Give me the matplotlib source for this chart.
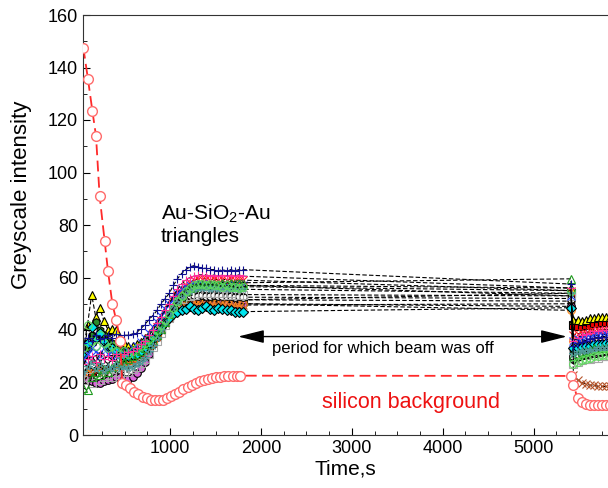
import matplotlib
matplotlib.use("Agg")
import matplotlib.pyplot as plt

plt.rcParams['font.family'] = ['Liberation Sans', 'DejaVu Sans']
plt.rcParams['mathtext.default'] = 'regular'

# time axis (s): beam on, then beam on again after the pause
t_on = [45, 90, 135, 180, 225, 270, 315, 360, 405, 450,
        495, 540, 585, 630, 675, 720, 765, 810, 855, 900,
        945, 990, 1035, 1080, 1125, 1170, 1215, 1260, 1305, 1350,
        1395, 1440, 1485, 1530, 1575, 1620, 1665, 1710, 1755, 1800]
t_after = [5412, 5440, 5485, 5530, 5575, 5620, 5665, 5710, 5755, 5800, 5845]

# silicon background
t_si = [44, 95, 143, 183, 223, 278, 315, 363, 404, 451,
        471, 516, 561, 606, 651, 696, 741, 786, 831, 876,
        921, 966, 1011, 1056, 1101, 1146, 1191, 1236, 1281, 1326,
        1371, 1416, 1461, 1506, 1551, 1596, 1641, 1686, 1731, 1766]
si_on = [147.5, 135.5, 123.5, 114, 91, 74, 62.5, 50, 44, 36,
         20, 19, 18, 16.5, 15.5, 14.5, 14, 13.5, 13.3, 13.3,
         13.5, 14, 14.8, 15.5, 16.5, 17.5, 18.3, 19, 19.8, 20.5,
         21, 21.5, 21.8, 22, 22.2, 22.4, 22.5, 22.5, 22.6, 22.6]
si_after = [22.5, 19, 14, 12.5, 12, 11.5, 11.5, 11.5, 11.5, 11.5, 11.5]

# Au-SiO2-Au triangles, one list per triangle
tri_navy = [35, 37, 36, 38, 36.5, 37, 38, 37, 38.5, 37, 38, 38, 38.5, 39, 40.5, 42, 44, 45.5, 47.5, 50,
            52, 54, 57, 59.5, 61.5, 63, 64, 64.5, 64, 63.5, 63.5, 63, 63, 62.5, 63, 62.5, 63, 62.5, 63, 63]
tri_navy_after = [57.5, 34, 35, 35.5, 36, 36.5, 37, 37, 37.5, 37.5, 37.5]
tri_pink = [27, 29, 30, 28, 31, 29, 30, 28.5, 31, 30, 31, 31.5, 32, 33, 34.5, 36, 38, 40, 42.5, 45,
            47.5, 50, 53, 55.5, 57.5, 59, 60, 60.5, 61, 61, 61, 60.5, 61, 60.5, 61, 60.5, 61, 60.5, 61, 60.5]
tri_pink_after = [56, 36, 37, 38, 38.5, 39, 39.5, 39.5, 40, 40, 40]
tri_redx = [24, 25, 27, 26, 25, 28, 27, 26, 29, 28, 29, 30, 31, 32, 33.5, 35, 37, 39, 41, 43.5,
            46, 48.5, 51, 53.5, 55.5, 57, 58, 59, 59.5, 59.5, 59.5, 59, 59.5, 59, 59.5, 59, 59.5, 59, 59, 59]
tri_redx_after = [55, 38, 38.5, 39, 39, 39.5, 39.5, 40, 40, 40, 40]
tri_lgreen = [33, 42, 36, 34, 38, 35, 33, 34, 32, 31, 32, 31, 32, 33, 34, 35, 36.5, 38, 40, 42,
              44, 46, 48.5, 51, 53, 55, 56, 57, 57.5, 57.5, 57, 57.5, 57, 57, 56.5, 57, 56.5, 56.5, 56, 56.5]
tri_lgreen_after = [55, 27, 28, 28.5, 29, 29.5, 30, 30, 30.5, 30.5, 31]
tri_gtri = [18, 17, 22, 24, 23, 25, 24, 26, 27, 28, 28, 29, 30, 31, 32, 33, 34.5, 36, 38, 40.5,
            43, 46, 49, 51.5, 53.5, 55, 56, 56.5, 57, 57, 57, 57.5, 57.5, 57.5, 58, 58, 58, 58, 58, 58]
tri_gtri_after = [59.5, 30, 31, 31.5, 32, 32.5, 33, 33, 33, 33, 33]
tri_teal = [24, 26, 28, 25, 27, 24.5, 26, 25, 27, 25, 26, 25.5, 26, 27, 28, 29.5, 31.5, 34, 37, 40,
            43, 46, 48.5, 50.5, 52.5, 54, 55, 55.5, 56, 56, 56, 55.5, 56, 55.5, 56, 55.5, 55.5, 55.5, 55.5, 55.5]
tri_teal_after = [54, 31, 31.5, 32, 32, 32.5, 32.5, 33, 33, 33, 33]
tri_gray = [21, 22, 20, 23, 21, 22, 23, 22, 24, 23, 24, 24, 25, 26, 27.5, 29, 31, 33.5, 36, 39,
            42, 44.5, 47, 49, 50.5, 52, 53, 53.5, 54, 54, 54, 54, 54, 54, 54, 53.5, 54, 53.5, 53.5, 53.5]
tri_gray_after = [53, 27, 28, 28.5, 29, 29, 29.5, 29.5, 30, 30, 30]
tri_yellow = [27, 42, 53.5, 45, 48.5, 43.5, 40, 40.5, 40, 37, 35, 34, 34, 34.5, 35.5, 37, 38.5, 40.5, 42.5, 45,
              47.5, 50, 52, 54, 55.5, 56.5, 57, 57.5, 57.5, 57.5, 57, 57.5, 57, 57.5, 57, 57, 57, 57, 57.5, 57]
tri_yellow_after = [56, 44, 44, 43.5, 44, 44.5, 44.5, 45, 45, 45, 45]
tri_redsq = [25, 27, 24, 26, 28, 27, 26, 29, 28, 27, 28, 28, 29, 30, 31, 32.5, 34, 36, 38, 40.5,
             43, 45, 47, 48.5, 50, 51, 51.5, 52, 52, 52, 51.5, 52, 51.5, 51.5, 51.5, 51.5, 51.5, 51.5, 51.5, 51.5]
tri_redsq_after = [54, 42, 41.5, 41.5, 42, 42, 42.5, 42.5, 43, 43, 43]
tri_orange = [24, 26, 25, 27, 26, 28, 27, 26, 28, 27, 27.5, 28, 28.5, 29.5, 30.5, 32, 33.5, 35.5, 38, 40.5,
              43, 45, 47, 48.5, 49.5, 50.5, 51, 51.5, 51.5, 51, 51.5, 51, 51, 50.5, 51, 50.5, 50.5, 50.5, 50.5, 50]
tri_orange_after = [47.5, 36, 35, 35, 35.5, 35.5, 36, 36, 36, 36, 36]
tri_brown = [23, 25, 24, 26, 25, 24, 26, 25, 27, 26, 27, 27.5, 28, 29, 30, 31.5, 33, 35, 37.5, 40,
             42.5, 44.5, 46.5, 48, 49, 50, 50.5, 50.5, 50.5, 50, 50.5, 50, 50, 49.5, 50, 49.5, 49.5, 49.5, 49.5, 49.5]
tri_brown_after = [50, 23, 21, 20, 19.5, 19, 19, 18.5, 18.5, 18.5, 18.5]
tri_white = [26, 28, 27, 29, 30, 28, 29, 27, 30, 29, 30, 30, 31, 32, 33, 34.5, 36, 38, 40.5, 43,
             45.5, 48, 50, 51.5, 52.5, 53, 53.5, 53.5, 53, 53.5, 53, 53, 53.5, 53, 53, 53, 53, 52.5, 53, 52.5]
tri_white_after = [52, 30, 31, 31, 31.5, 31.5, 32, 32, 32, 32, 32]
tri_violet = [22, 21, 20.5, 20, 20, 20.5, 21, 21.5, 22, 22, 21.5, 21.5, 22, 23.5, 25.5, 28, 31, 34.5, 37.5, 40.5,
              43, 45, 46.5, 47.5, 48.5, 49, 49.5, 50, 50, 50, 50.5, 50, 50, 50, 50.5, 50, 50, 50, 50, 50]
tri_violet_after = [49, 29, 30, 30.5, 31, 31, 31.5, 31.5, 32, 32, 32]
tri_cyan = [30, 35, 41, 37, 39, 36, 34, 33, 32, 31, 30, 30, 30.5, 31, 32, 33.5, 35, 37, 39, 41,
            43, 44.5, 46, 47, 47.5, 48, 49, 48, 47.5, 48.5, 49, 48, 47.5, 48.5, 48, 47.5, 47.5, 47, 47, 47]
tri_cyan_after = [48.5, 33, 33, 33.5, 34, 34, 34.5, 34.5, 34.5, 35, 35]
tri_dgreen = [30, 33, 38, 43, 40, 38, 36, 35, 34, 33, 32, 32, 32.5, 33, 34, 35, 36.5, 38, 40, 42.5,
              45, 47, 49, 50.5, 51.5, 52, 52.5, 52.5, 52.5, 52, 52.5, 52, 52, 52, 52, 52, 51.5, 52, 51.5, 51.5]
tri_dgreen_after = [51, 32, 32.5, 33, 33, 33.5, 33.5, 34, 34, 34, 34]
tri_blue = [29, 31, 33, 32, 30, 33, 31, 32, 30, 31, 31, 32, 33, 34, 35.5, 37, 39, 41, 43, 45.5,
            48, 50, 52, 54, 55.5, 56.5, 57, 57.5, 57.5, 57.5, 57, 57.5, 57, 57, 57, 57, 57, 57, 57, 57]
tri_blue_after = [53, 36, 36.5, 37, 37.5, 37.5, 38, 38, 38, 38.5, 38.5]

# (on, after, marker, face, edge), drawn bottom to top
series = [
    (tri_redsq, tri_redsq_after, 's', '#ee0000', 'k'),
    (tri_yellow, tri_yellow_after, '^', '#ffff00', 'k'),
    (tri_dgreen, tri_dgreen_after, 'h', '#2a8a2a', 'k'),
    (tri_violet, tri_violet_after, 'o', '#dd66dd', 'k'),
    (tri_redx, tri_redx_after, 'x', '#ff2020', '#ff2020'),
    (tri_brown, tri_brown_after, 'x', '#b5542a', '#b5542a'),
    (tri_orange, tri_orange_after, 'o', 'none', '#ff8c1a'),
    (tri_white, tri_white_after, 'o', 'white', 'k'),
    (tri_gray, tri_gray_after, 's', 'none', '#a8a8a8'),
    (tri_cyan, tri_cyan_after, 'D', '#00e5ee', 'k'),
    (tri_blue, tri_blue_after, 'x', '#2040ff', '#2040ff'),
    (tri_gtri, tri_gtri_after, '^', 'none', '#1e9a1e'),
    (tri_teal, tri_teal_after, '*', 'none', '#4f9a9a'),
    (tri_lgreen, tri_lgreen_after, 'o', 'none', '#5ddc5d'),
    (tri_pink, tri_pink_after, '+', '#ff2d9a', '#ff2d9a'),
    (tri_navy, tri_navy_after, '+', '#101090', '#101090'),
]

fig = plt.figure(figsize=(6.08, 4.88), dpi=100)
ax = fig.add_axes([83 / 608, 53 / 488, 525 / 608, 420 / 488])

for on, after, mk, fc, ec in series:
    ax.plot(t_on + t_after, on + after, color='k', ls='--', dashes=(4, 2), lw=0.8,
            marker=mk, ms=5.5, mfc=fc, mec=ec, mew=0.8)

ax.plot(t_si + t_after, si_on + si_after, color='#ff2a2a', ls='--', dashes=(6, 3), lw=1.3,
        marker='o', ms=7, mfc='white', mec='#ff6b6b', mew=1.0, zorder=5)

ax.annotate('', xy=(1747, 37.5), xytext=(5367, 37.5),
            arrowprops=dict(arrowstyle='<|-|>,head_length=1.0,head_width=0.25',
                            color='k', lw=1, mutation_scale=16, shrinkA=0, shrinkB=0))
ax.text(2121, 33, 'period for which beam was off', fontsize=12, ha='left', va='center')
ax.text(899, 88.4, 'Au-SiO$_2$-Au\ntriangles', fontsize=15, ha='left', va='top', linespacing=1.15)
ax.text(2672, 12.2, 'silicon background', fontsize=15.5, color='#ee1111', ha='left', va='center')

ax.set_xlim(40, 5820)
ax.set_ylim(0, 160)
ax.set_xticks([1000, 2000, 3000, 4000, 5000])
ax.set_xticks(range(250, 5820, 250), minor=True)
ax.set_yticks(range(0, 161, 20))
ax.set_yticks(range(10, 160, 20), minor=True)
ax.tick_params(which='both', direction='in', labelsize=13, top=False, right=False)
ax.tick_params(which='major', length=5)
ax.tick_params(which='minor', length=3)
ax.spines['right'].set_visible(False)
for s in ['left', 'bottom', 'top']:
    ax.spines[s].set_color('#333333')
ax.set_xlabel('Time,s', fontsize=15, labelpad=2)
ax.set_ylabel('Greyscale intensity', fontsize=16)
ax.yaxis.set_label_coords(-0.097, 0.571)

fig.savefig('out.png', dpi=100)
